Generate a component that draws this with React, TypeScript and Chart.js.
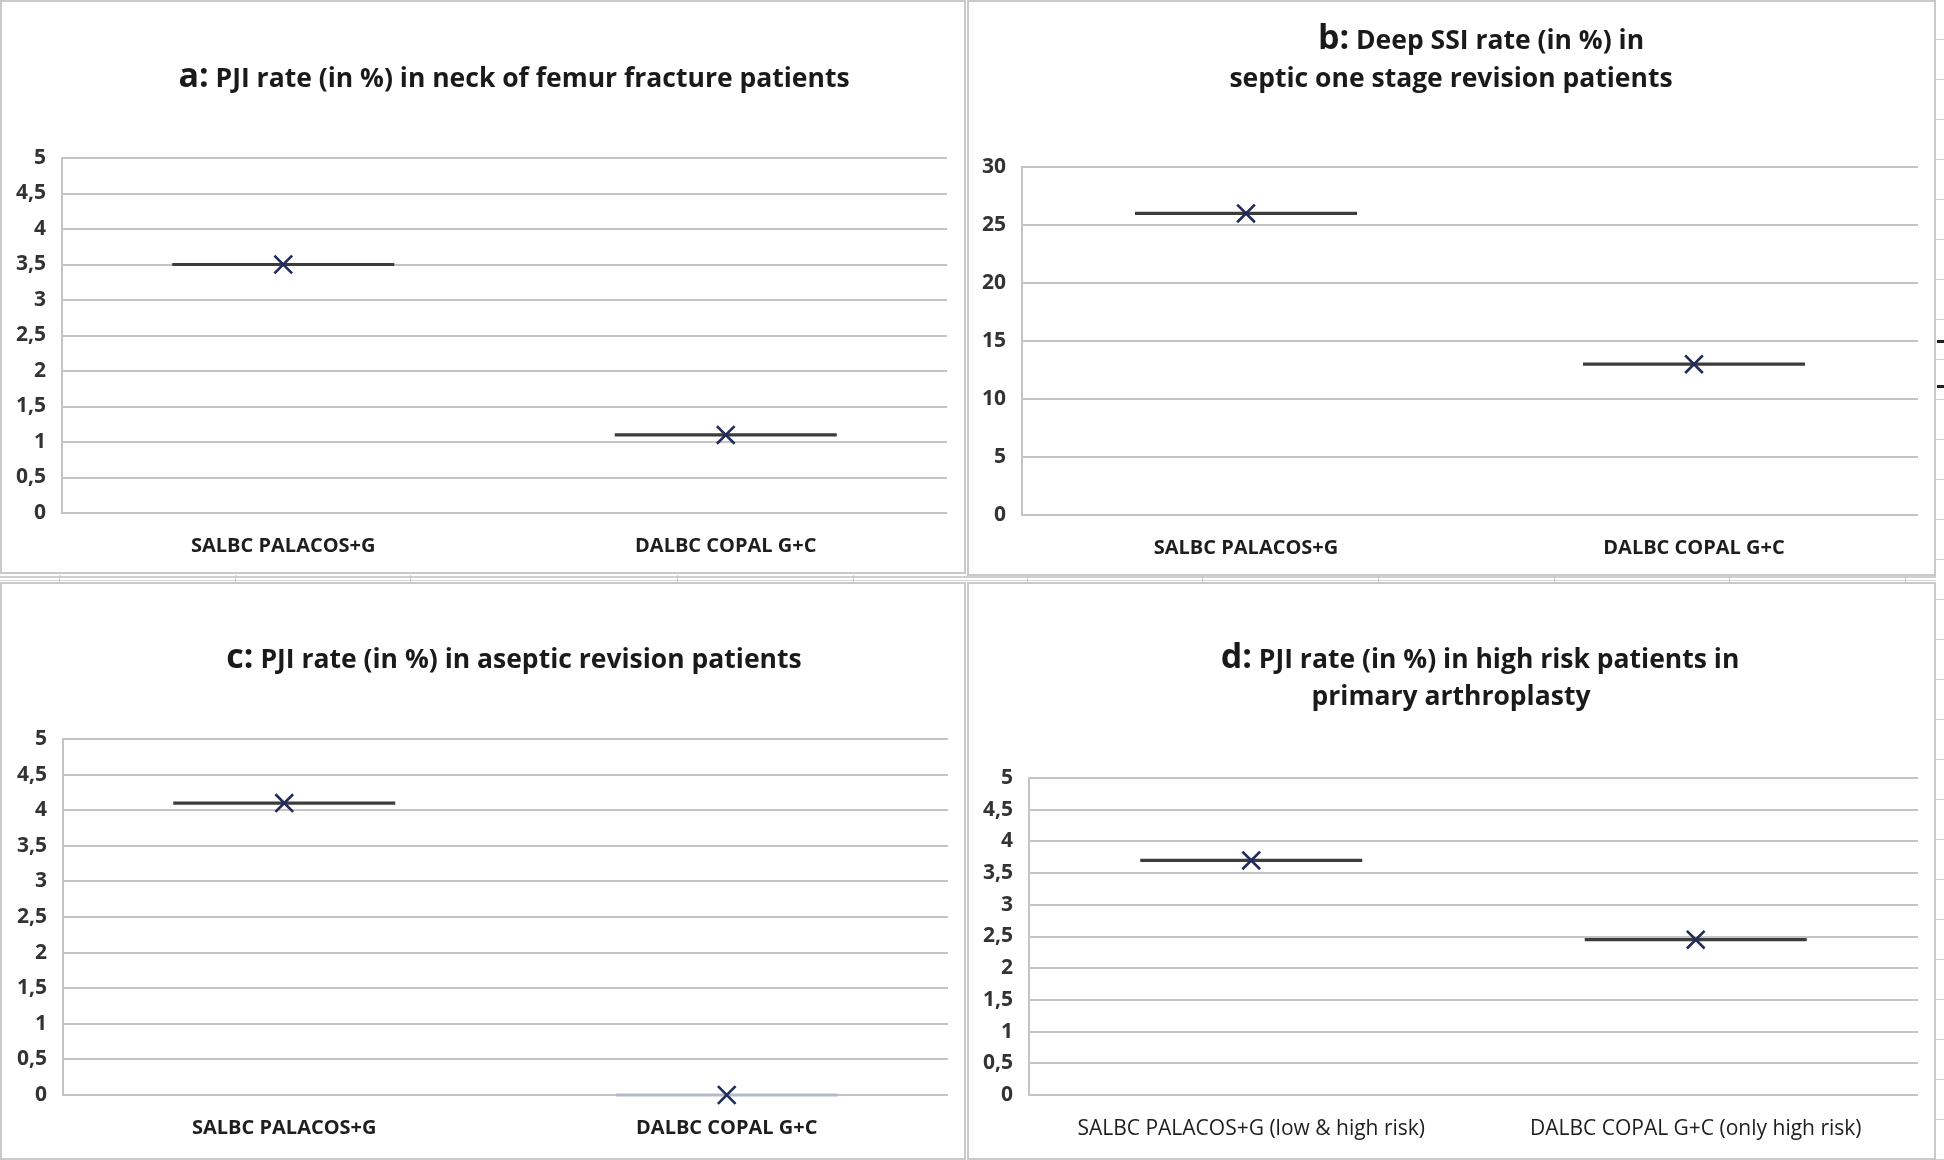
import React, { useEffect, useRef } from 'react';
import { Chart, registerables } from 'chart.js';

Chart.register(...registerables);

// ---- data ----
const categoriesStd = ['SALBC PALACOS+G', 'DALBC COPAL G+C'];
const categoriesRisk = ['SALBC PALACOS+G (low & high risk)', 'DALBC COPAL G+C (only high risk)'];
const valuesA = [3.5, 1.1];
const valuesB = [26, 13];
const valuesC = [4.1, 0];
const valuesD = [3.7, 2.45];
const yMaxPct = 5;
const yStepPct = 0.5;
const yMaxB = 30;
const yStepB = 5;

type Rect = { x: number; y: number; w: number; h: number };
type Area = { l: number; t: number; r: number; b: number };

const FONT = '"Open Sans", Lato, sans-serif';

function Panel(props: {
  frame: Rect;
  area: Area;
  labels: string[];
  values: number[];
  max: number;
  step: number;
  labelWeight: string;
  labelSize: number;
  segColors: string[];
}) {
  const ref = useRef<HTMLCanvasElement>(null);
  const { frame, area, labels, values, max, step, labelWeight, labelSize, segColors } = props;
  useEffect(() => {
    const padTop = area.t - frame.y;
    const padRight = frame.x + frame.w - area.r;
    const yW = area.l - frame.x;
    const xH = frame.y + frame.h - area.b;
    const chart = new Chart(ref.current as HTMLCanvasElement, {
      type: 'line',
      data: {
        labels,
        datasets: [
          {
            data: values,
            showLine: false,
            pointStyle: 'crossRot',
            pointRadius: 12.5,
            pointHoverRadius: 12.5,
            pointBorderWidth: 2.6,
            pointBorderColor: '#1f2b5b',
            pointBackgroundColor: '#1f2b5b',
            borderColor: '#1f2b5b',
            clip: false,
          } as any,
          {
            data: values,
            showLine: false,
            pointStyle: 'line',
            pointRadius: 111,
            pointHoverRadius: 111,
            pointBorderWidth: 3.2,
            pointBorderColor: segColors,
            pointBackgroundColor: segColors,
            borderColor: segColors,
            clip: false,
          } as any,
        ],
      },
      options: {
        animation: false,
        responsive: false,
        events: [],
        layout: { autoPadding: false, padding: { top: padTop, right: padRight, left: 0, bottom: 0 } } as any,
        plugins: {
          legend: { display: false },
          tooltip: { enabled: false },
          title: { display: false },
        },
        scales: {
          x: {
            offset: true,
            grid: { display: false, drawTicks: false },
            border: { display: false },
            ticks: {
              padding: 21,
              color: '#1e1e1e',
              font: { family: FONT, size: labelSize, weight: labelWeight as any },
              maxRotation: 0,
              autoSkip: false,
            },
            afterFit: (s: any) => {
              s.height = xH;
            },
          },
          y: {
            min: 0,
            max,
            ticks: {
              stepSize: step,
              padding: 16,
              color: '#333333',
              font: { family: FONT, size: 21, weight: 'bold' },
              callback: (v: any) => String(v).replace('.', ','),
            },
            grid: { color: '#c4c4c4', lineWidth: 2, drawTicks: false },
            border: { display: true, color: '#c4c4c4', width: 2 },
            afterFit: (s: any) => {
              s.width = yW;
            },
          },
        },
      },
    });
    return () => chart.destroy();
  }, []);
  return (
    <canvas
      ref={ref}
      width={frame.w}
      height={frame.h}
      style={{ position: 'absolute', left: frame.x, top: frame.y, width: frame.w, height: frame.h }}
    />
  );
}

function Title(props: { cx: number; cy: number; letter?: string; text: string }) {
  const { cx, cy, letter, text } = props;
  return (
    <div
      style={{
        position: 'absolute',
        left: cx - 450,
        width: 900,
        top: cy - 22,
        height: 44,
        lineHeight: '44px',
        textAlign: 'center',
        fontFamily: FONT,
        fontWeight: 700,
        fontSize: 26.5,
        color: '#1a1a1a',
        whiteSpace: 'nowrap',
      }}
    >
      {letter ? <span style={{ fontSize: 34 }}>{letter}</span> : null}
      {letter ? ' ' : ''}
      {text}
    </div>
  );
}

function Frame({ r }: { r: Rect }) {
  return (
    <div
      style={{
        position: 'absolute',
        left: r.x,
        top: r.y,
        width: r.w,
        height: r.h,
        boxSizing: 'border-box',
        border: '2px solid #c9c9c9',
        background: '#ffffff',
      }}
    />
  );
}

const frameA: Rect = { x: 0, y: 0, w: 966, h: 574 };
const frameB: Rect = { x: 967, y: 0, w: 969, h: 576 };
const frameC: Rect = { x: 0, y: 582, w: 966, h: 578 };
const frameD: Rect = { x: 967, y: 582, w: 969, h: 578 };

const cellXs = [59, 235, 410, 677, 853, 1027, 1202, 1378, 1554, 1729, 1905];

export default function App() {
  return (
    <div
      style={{
        position: 'absolute',
        left: 0,
        top: 0,
        width: 1944,
        height: 1160,
        overflow: 'hidden',
        background: '#ffffff',
      }}
    >
      {/* spreadsheet strip between rows */}
      <div style={{ position: 'absolute', left: 0, top: 576, width: 1944, height: 2, background: '#d0d0d0' }} />
      <div style={{ position: 'absolute', left: 0, top: 580, width: 1944, height: 1, background: '#d6d6d6' }} />
      {cellXs.map((x) => (
        <div key={x} style={{ position: 'absolute', left: x, top: 575, width: 1, height: 8, background: '#c8c8c8' }} />
      ))}
      {/* right strip */}
      <div
        style={{
          position: 'absolute',
          left: 1936,
          top: 0,
          width: 8,
          height: 1160,
          background: 'repeating-linear-gradient(to bottom, #ffffff 0px, #ffffff 39px, #cfcfcf 39px, #cfcfcf 40px)',
        }}
      />
      <div style={{ position: 'absolute', left: 1937, top: 340, width: 7, height: 3, background: '#222' }} />
      <div style={{ position: 'absolute', left: 1937, top: 385, width: 7, height: 3, background: '#222' }} />

      <Frame r={frameA} />
      <Frame r={frameB} />
      <Frame r={frameC} />
      <Frame r={frameD} />

      <Panel
        frame={frameA}
        area={{ l: 62, t: 158, r: 947, b: 513 }}
        labels={categoriesStd}
        values={valuesA}
        max={yMaxPct}
        step={yStepPct}
        labelWeight="bold"
        labelSize={20}
        segColors={['#3c3c3c', '#3c3c3c']}
      />
      <Panel
        frame={frameB}
        area={{ l: 1022, t: 167, r: 1918, b: 515 }}
        labels={categoriesStd}
        values={valuesB}
        max={yMaxB}
        step={yStepB}
        labelWeight="bold"
        labelSize={20}
        segColors={['#3c3c3c', '#3c3c3c']}
      />
      <Panel
        frame={frameC}
        area={{ l: 63, t: 739, r: 948, b: 1095 }}
        labels={categoriesStd}
        values={valuesC}
        max={yMaxPct}
        step={yStepPct}
        labelWeight="bold"
        labelSize={20}
        segColors={['#3c3c3c', '#b4bac6']}
      />
      <Panel
        frame={frameD}
        area={{ l: 1029, t: 778, r: 1918, b: 1095 }}
        labels={categoriesRisk}
        values={valuesD}
        max={yMaxPct}
        step={yStepPct}
        labelWeight="normal"
        labelSize={21}
        segColors={['#3c3c3c', '#3c3c3c']}
      />

      <Title cx={514} cy={74} letter="a:" text="PJI rate (in %) in neck of femur fracture patients" />
      <Title cx={1481} cy={36} letter="b:" text="Deep SSI rate (in %) in" />
      <Title cx={1451} cy={77} text="septic one stage revision patients" />
      <Title cx={514} cy={655} letter="c:" text="PJI rate (in %) in aseptic revision patients" />
      <Title cx={1480} cy={655} letter="d:" text="PJI rate (in %) in high risk patients in" />
      <Title cx={1451} cy={695} text="primary arthroplasty" />
    </div>
  );
}
